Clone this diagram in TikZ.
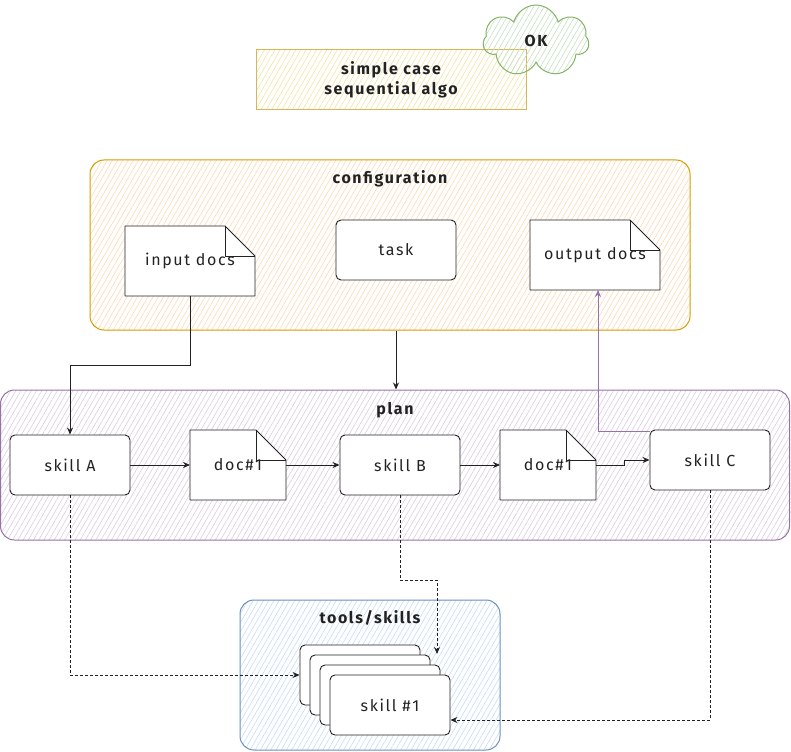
\documentclass[tikz,border=0pt]{standalone}
\usepackage{fontspec}
\setmainfont{Fira Sans}[LetterSpace=10]
\usetikzlibrary{shapes.symbols,patterns.meta,arrows.meta}
\pgfdeclarelayer{bg}
\pgfdeclarelayer{mid}
\pgfsetlayers{bg,mid,main}
\definecolor{cYel}{HTML}{D6B656}\definecolor{fYel}{HTML}{F5E3A0}
\definecolor{cOra}{HTML}{D79B00}\definecolor{fOra}{HTML}{FFD9B0}
\definecolor{cPur}{HTML}{9673A6}\definecolor{fPur}{HTML}{DCCBE6}
\definecolor{cBlu}{HTML}{6C8EBF}\definecolor{fBlu}{HTML}{C6DCF7}
\definecolor{cGre}{HTML}{82B366}\definecolor{fGre}{HTML}{C4E0C0}
\definecolor{ink}{HTML}{222222}
\newcommand\docfold[2]{%
  \draw[docline,fill=white] (#1.north west) -- ([xshift=-#2]#1.north east) -- ([yshift=-#2]#1.north east) -- (#1.south east) -- (#1.south west) -- cycle;
  \draw[docline] ([xshift=-#2]#1.north east) -- ([xshift=-#2,yshift=-#2]#1.north east) -- ([yshift=-#2]#1.north east);}
\begin{document}
\begin{tikzpicture}[x=1pt,y=-1pt,
  font=\fontsize{16}{19}\selectfont, text=ink,
  hatch/.style={pattern={Lines[angle=60,distance=4.5pt,line width=0.6pt]}, pattern color=#1},
  container/.style n args={2}{draw=#1, line width=1pt, hatch=#2, rounded corners=14pt, inner sep=0pt},
  ttl/.style={font=\fontsize{16}{20}\selectfont\bfseries},
  skill/.style={draw=ink, line width=0.9pt, fill=white, rounded corners=5pt, minimum width=120pt, minimum height=60pt, inner sep=0pt},
  docnode/.style={minimum height=70pt, inner sep=0pt, outer sep=0pt},
  docline/.style={draw=ink, line width=0.9pt, line join=round},
  arr/.style={draw=ink, line width=0.8pt, -{Stealth[length=7pt,width=6pt]}},
  dsh/.style={arr, dash pattern=on 3pt off 2pt}]
\useasboundingbox (0,0) rectangle (791,751);
% title and cloud
\node[draw=cYel, line width=1pt, hatch=fYel, minimum width=270pt, minimum height=60pt, align=center, ttl] (title) at (391,80) {simple case\\sequential algo};
\node[cloud, cloud puffs=7, cloud ignores aspect, draw=cGre, line width=1pt, hatch=fGre, minimum width=106pt, minimum height=72pt, ttl] (ok) at (536,41) {OK};
% containers
\begin{pgfonlayer}{bg}
\node[container={cOra}{fOra}, minimum width=600pt, minimum height=170pt] (config) at (390,245) {};
\node[container={cPur}{fPur}, minimum width=789pt, minimum height=150pt] (plan) at (395,465) {};
\node[container={cBlu}{fBlu}, minimum width=260pt, minimum height=150pt] (tools) at (370,675) {};
\end{pgfonlayer}
\node[ttl] (configlbl) at (390,179) {configuration};
\node[ttl] (planlbl) at (395,410) {plan};
\node[ttl] (toolslbl) at (370,618) {tools/skills};
% configuration contents
\node[docnode, minimum width=130pt] (indocs) at (190,261) {};
\node (indocstxt) at (190,261) {input docs};
\node[skill] (task) at (396,250) {task};
\node[docnode, minimum width=130pt] (outdocs) at (595,255) {};
\node (outdocstxt) at (595,255) {output docs};
% plan contents
\node[skill] (skillA) at (70,465) {skill A};
\node[docnode, minimum width=96pt] (doca) at (238,465) {};
\node (docatxt) at (238,465) {doc\#1};
\node[skill] (skillB) at (400,465) {skill B};
\node[docnode, minimum width=96pt] (docb) at (548,465) {};
\node (docbtxt) at (548,465) {doc\#1};
\node[skill] (skillC) at (710,460) {skill C};
% tools stack
\node[skill] (s1) at (360,675) {};
\node[skill] (s2) at (370,685) {};
\node[skill] (s3) at (380,695) {};
\node[skill] (s4) at (390,705) {skill \#1};
\begin{pgfonlayer}{mid}
  \docfold{indocs}{30pt}
  \docfold{outdocs}{30pt}
  \docfold{doca}{30pt}
  \docfold{docb}{30pt}
\end{pgfonlayer}
% connectors
\draw[arr] (indocs.south) -- ++(0,69) -| (skillA.north);
\draw[arr] (config.south -| task.south) -- (plan.north -| task.south);
\draw[arr] (skillA.east) -- (doca.west);
\draw[arr] (doca.east) -- (skillB.west);
\draw[arr] (skillB.east) -- (docb.west);
\draw[arr] (docb.east) -- ++(28,0) |- (skillC.west);
\draw[line width=0.8pt, draw=cPur, -{Stealth[length=7pt,width=6pt]}] ([yshift=-2pt]skillC.north west) -| ([xshift=3pt]outdocs.south);
\coordinate (bTarget) at (437,654);
\draw[dsh] (skillA.south) |- (s1.west);
\draw[dsh] (skillB.south) -- ++(0,85) -| (bTarget);
\draw[dsh] (skillC.south) |- ([yshift=-15pt]s4.east);
\end{tikzpicture}
\end{document}
